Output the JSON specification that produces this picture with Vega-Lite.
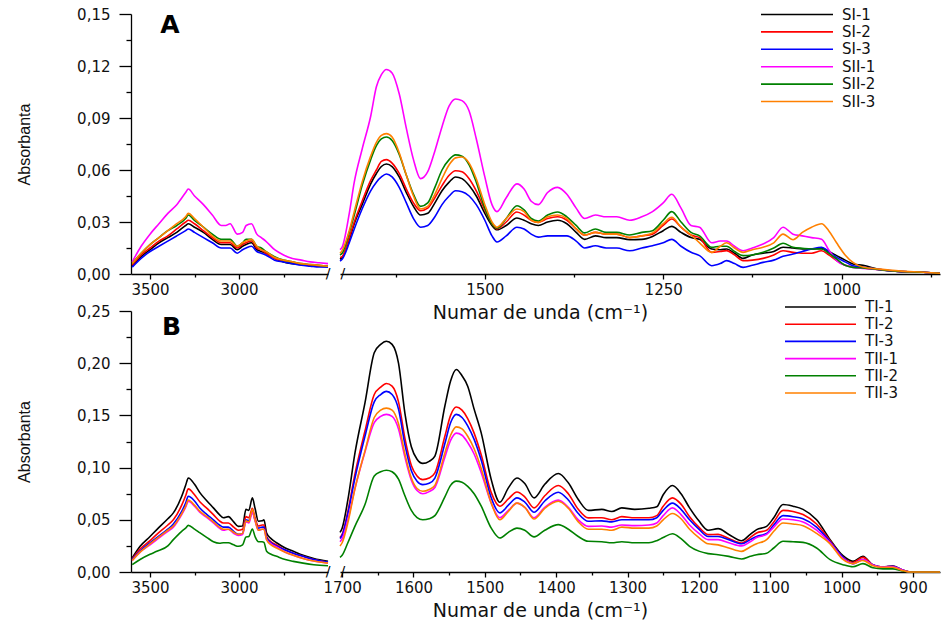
{
"$schema": "https://vega.github.io/schema/vega-lite/v6.json",
"padding": {"left": 15, "top": 6, "right": 0, "bottom": 0},
"config": {
  "view": {"stroke": null},
  "font": "DejaVu Sans",
  "axis": {"domainColor": "#000", "domainWidth": 1.3, "tickColor": "#000", "tickWidth": 1.3, "grid": false, "labelFont": "DejaVu Sans", "labelFontSize": 15, "labelColor": "#111", "labelFlush": false, "labelOverlap": false, "labelBound": false},
  "line": {"strokeWidth": 1.6, "interpolate": "monotone", "clip": true}
},
"datasets": {
"aL": [
{"w":3600,"SI-1":0.0045,"SI-2":0.005,"SI-3":0.004,"SII-1":0.007,"SII-2":0.006,"SII-3":0.006},
{"w":3550,"SI-1":0.010,"SI-2":0.011,"SI-3":0.009,"SII-1":0.016,"SII-2":0.012,"SII-3":0.012},
{"w":3500,"SI-1":0.014,"SI-2":0.015,"SI-3":0.013,"SII-1":0.023,"SII-2":0.017,"SII-3":0.017},
{"w":3450,"SI-1":0.018,"SI-2":0.019,"SI-3":0.016,"SII-1":0.029,"SII-2":0.021,"SII-3":0.021},
{"w":3400,"SI-1":0.021,"SI-2":0.022,"SI-3":0.019,"SII-1":0.035,"SII-2":0.025,"SII-3":0.025},
{"w":3350,"SI-1":0.024,"SI-2":0.026,"SI-3":0.022,"SII-1":0.040,"SII-2":0.028,"SII-3":0.029},
{"w":3300,"SI-1":0.028,"SI-2":0.030,"SI-3":0.025,"SII-1":0.047,"SII-2":0.032,"SII-3":0.033},
{"w":3285,"SI-1":0.029,"SI-2":0.031,"SI-3":0.026,"SII-1":0.049,"SII-2":0.034,"SII-3":0.035},
{"w":3250,"SI-1":0.027,"SI-2":0.029,"SI-3":0.024,"SII-1":0.045,"SII-2":0.031,"SII-3":0.032},
{"w":3200,"SI-1":0.024,"SI-2":0.025,"SI-3":0.021,"SII-1":0.040,"SII-2":0.027,"SII-3":0.027},
{"w":3150,"SI-1":0.020,"SI-2":0.021,"SI-3":0.018,"SII-1":0.034,"SII-2":0.023,"SII-3":0.022},
{"w":3100,"SI-1":0.017,"SI-2":0.018,"SI-3":0.015,"SII-1":0.028,"SII-2":0.020,"SII-3":0.019},
{"w":3075,"SI-1":0.017,"SI-2":0.018,"SI-3":0.015,"SII-1":0.028,"SII-2":0.020,"SII-3":0.019},
{"w":3050,"SI-1":0.017,"SI-2":0.018,"SI-3":0.015,"SII-1":0.029,"SII-2":0.020,"SII-3":0.019},
{"w":3010,"SI-1":0.014,"SI-2":0.015,"SI-3":0.012,"SII-1":0.023,"SII-2":0.016,"SII-3":0.016},
{"w":2980,"SI-1":0.016,"SI-2":0.017,"SI-3":0.014,"SII-1":0.024,"SII-2":0.018,"SII-3":0.018},
{"w":2960,"SI-1":0.017,"SI-2":0.018,"SI-3":0.015,"SII-1":0.028,"SII-2":0.020,"SII-3":0.019},
{"w":2930,"SI-1":0.018,"SI-2":0.019,"SI-3":0.016,"SII-1":0.029,"SII-2":0.020,"SII-3":0.020},
{"w":2900,"SI-1":0.014,"SI-2":0.015,"SI-3":0.013,"SII-1":0.023,"SII-2":0.016,"SII-3":0.016},
{"w":2875,"SI-1":0.013,"SI-2":0.014,"SI-3":0.012,"SII-1":0.021,"SII-2":0.015,"SII-3":0.014},
{"w":2850,"SI-1":0.012,"SI-2":0.012,"SI-3":0.011,"SII-1":0.019,"SII-2":0.013,"SII-3":0.013},
{"w":2800,"SI-1":0.009,"SI-2":0.009,"SI-3":0.008,"SII-1":0.014,"SII-2":0.010,"SII-3":0.0095},
{"w":2750,"SI-1":0.007,"SI-2":0.0075,"SI-3":0.007,"SII-1":0.011,"SII-2":0.008,"SII-3":0.008},
{"w":2700,"SI-1":0.006,"SI-2":0.0065,"SI-3":0.006,"SII-1":0.009,"SII-2":0.007,"SII-3":0.007},
{"w":2650,"SI-1":0.0055,"SI-2":0.0055,"SI-3":0.005,"SII-1":0.008,"SII-2":0.006,"SII-3":0.006},
{"w":2600,"SI-1":0.005,"SI-2":0.005,"SI-3":0.0045,"SII-1":0.007,"SII-2":0.0055,"SII-3":0.0055},
{"w":2550,"SI-1":0.0045,"SI-2":0.0045,"SI-3":0.004,"SII-1":0.0065,"SII-2":0.005,"SII-3":0.005},
{"w":2500,"SI-1":0.004,"SI-2":0.0045,"SI-3":0.004,"SII-1":0.006,"SII-2":0.0045,"SII-3":0.0045}
],
"aR": [
{"w":1703,"SI-1":0.0085,"SI-2":0.0095,"SI-3":0.0075,"SII-1":0.014,"SII-2":0.011,"SII-3":0.012},
{"w":1700,"SI-1":0.0095,"SI-2":0.010,"SI-3":0.0085,"SII-1":0.0155,"SII-2":0.012,"SII-3":0.0135},
{"w":1690,"SI-1":0.020,"SI-2":0.021,"SI-3":0.018,"SII-1":0.035,"SII-2":0.024,"SII-3":0.025},
{"w":1683,"SI-1":0.029,"SI-2":0.030,"SI-3":0.026,"SII-1":0.053,"SII-2":0.034,"SII-3":0.036},
{"w":1672,"SI-1":0.040,"SI-2":0.042,"SI-3":0.0375,"SII-1":0.072,"SII-2":0.051,"SII-3":0.053},
{"w":1660,"SI-1":0.052,"SI-2":0.054,"SI-3":0.048,"SII-1":0.091,"SII-2":0.066,"SII-3":0.068},
{"w":1652,"SI-1":0.058,"SI-2":0.060,"SI-3":0.053,"SII-1":0.108,"SII-2":0.074,"SII-3":0.076},
{"w":1645,"SI-1":0.062,"SI-2":0.065,"SI-3":0.056,"SII-1":0.115,"SII-2":0.078,"SII-3":0.080},
{"w":1638,"SI-1":0.0635,"SI-2":0.066,"SI-3":0.0577,"SII-1":0.118,"SII-2":0.079,"SII-3":0.081},
{"w":1630,"SI-1":0.062,"SI-2":0.064,"SI-3":0.056,"SII-1":0.116,"SII-2":0.077,"SII-3":0.079},
{"w":1620,"SI-1":0.056,"SI-2":0.058,"SI-3":0.050,"SII-1":0.104,"SII-2":0.069,"SII-3":0.070},
{"w":1610,"SI-1":0.047,"SI-2":0.049,"SI-3":0.041,"SII-1":0.084,"SII-2":0.057,"SII-3":0.057},
{"w":1600,"SI-1":0.039,"SI-2":0.041,"SI-3":0.032,"SII-1":0.066,"SII-2":0.046,"SII-3":0.045},
{"w":1590,"SI-1":0.034,"SI-2":0.0365,"SI-3":0.027,"SII-1":0.055,"SII-2":0.039,"SII-3":0.0375},
{"w":1580,"SI-1":0.035,"SI-2":0.038,"SI-3":0.028,"SII-1":0.059,"SII-2":0.041,"SII-3":0.039},
{"w":1570,"SI-1":0.041,"SI-2":0.044,"SI-3":0.033,"SII-1":0.071,"SII-2":0.050,"SII-3":0.046},
{"w":1560,"SI-1":0.048,"SI-2":0.051,"SI-3":0.040,"SII-1":0.085,"SII-2":0.060,"SII-3":0.055},
{"w":1550,"SI-1":0.053,"SI-2":0.057,"SI-3":0.045,"SII-1":0.097,"SII-2":0.066,"SII-3":0.063},
{"w":1541,"SI-1":0.056,"SI-2":0.0596,"SI-3":0.048,"SII-1":0.101,"SII-2":0.0687,"SII-3":0.067},
{"w":1532,"SI-1":0.055,"SI-2":0.059,"SI-3":0.0475,"SII-1":0.100,"SII-2":0.068,"SII-3":0.0675},
{"w":1522,"SI-1":0.051,"SI-2":0.055,"SI-3":0.045,"SII-1":0.094,"SII-2":0.063,"SII-3":0.064},
{"w":1512,"SI-1":0.045,"SI-2":0.048,"SI-3":0.040,"SII-1":0.078,"SII-2":0.053,"SII-3":0.055},
{"w":1500,"SI-1":0.035,"SI-2":0.037,"SI-3":0.031,"SII-1":0.056,"SII-2":0.038,"SII-3":0.040},
{"w":1490,"SI-1":0.028,"SI-2":0.029,"SI-3":0.022,"SII-1":0.040,"SII-2":0.029,"SII-3":0.030},
{"w":1483,"SI-1":0.0255,"SI-2":0.026,"SI-3":0.0185,"SII-1":0.036,"SII-2":0.0265,"SII-3":0.027},
{"w":1470,"SI-1":0.028,"SI-2":0.030,"SI-3":0.022,"SII-1":0.044,"SII-2":0.032,"SII-3":0.032},
{"w":1455,"SI-1":0.0323,"SI-2":0.0358,"SI-3":0.027,"SII-1":0.052,"SII-2":0.0394,"SII-3":0.0375},
{"w":1445,"SI-1":0.031,"SI-2":0.034,"SI-3":0.026,"SII-1":0.049,"SII-2":0.037,"SII-3":0.036},
{"w":1435,"SI-1":0.029,"SI-2":0.031,"SI-3":0.023,"SII-1":0.042,"SII-2":0.032,"SII-3":0.031},
{"w":1425,"SI-1":0.028,"SI-2":0.0298,"SI-3":0.0213,"SII-1":0.040,"SII-2":0.0306,"SII-3":0.0298},
{"w":1412,"SI-1":0.030,"SI-2":0.032,"SI-3":0.022,"SII-1":0.047,"SII-2":0.034,"SII-3":0.033},
{"w":1398,"SI-1":0.031,"SI-2":0.033,"SI-3":0.022,"SII-1":0.050,"SII-2":0.0358,"SII-3":0.034},
{"w":1385,"SI-1":0.029,"SI-2":0.031,"SI-3":0.022,"SII-1":0.046,"SII-2":0.033,"SII-3":0.032},
{"w":1372,"SI-1":0.024,"SI-2":0.026,"SI-3":0.019,"SII-1":0.038,"SII-2":0.028,"SII-3":0.026},
{"w":1360,"SI-1":0.020,"SI-2":0.0225,"SI-3":0.015,"SII-1":0.032,"SII-2":0.0237,"SII-3":0.0225},
{"w":1345,"SI-1":0.022,"SI-2":0.024,"SI-3":0.0163,"SII-1":0.034,"SII-2":0.026,"SII-3":0.024},
{"w":1330,"SI-1":0.021,"SI-2":0.023,"SI-3":0.015,"SII-1":0.033,"SII-2":0.024,"SII-3":0.023},
{"w":1315,"SI-1":0.021,"SI-2":0.023,"SI-3":0.015,"SII-1":0.033,"SII-2":0.024,"SII-3":0.023},
{"w":1297,"SI-1":0.0198,"SI-2":0.021,"SI-3":0.0134,"SII-1":0.031,"SII-2":0.0225,"SII-3":0.021},
{"w":1280,"SI-1":0.020,"SI-2":0.022,"SI-3":0.015,"SII-1":0.033,"SII-2":0.024,"SII-3":0.022},
{"w":1265,"SI-1":0.0217,"SI-2":0.023,"SI-3":0.0163,"SII-1":0.036,"SII-2":0.025,"SII-3":0.0237},
{"w":1250,"SI-1":0.025,"SI-2":0.028,"SI-3":0.018,"SII-1":0.041,"SII-2":0.031,"SII-3":0.029},
{"w":1238,"SI-1":0.0275,"SI-2":0.0317,"SI-3":0.020,"SII-1":0.046,"SII-2":0.036,"SII-3":0.0327},
{"w":1225,"SI-1":0.024,"SI-2":0.027,"SI-3":0.016,"SII-1":0.038,"SII-2":0.030,"SII-3":0.027},
{"w":1211,"SI-1":0.021,"SI-2":0.0225,"SI-3":0.0125,"SII-1":0.028,"SII-2":0.024,"SII-3":0.0225},
{"w":1199,"SI-1":0.020,"SI-2":0.021,"SI-3":0.0106,"SII-1":0.027,"SII-2":0.022,"SII-3":0.018},
{"w":1182,"SI-1":0.0144,"SI-2":0.0125,"SI-3":0.0048,"SII-1":0.018,"SII-2":0.0154,"SII-3":0.0125},
{"w":1170,"SI-1":0.014,"SI-2":0.013,"SI-3":0.006,"SII-1":0.019,"SII-2":0.016,"SII-3":0.016},
{"w":1161,"SI-1":0.0144,"SI-2":0.0135,"SI-3":0.0077,"SII-1":0.019,"SII-2":0.016,"SII-3":0.018},
{"w":1150,"SI-1":0.012,"SI-2":0.011,"SI-3":0.006,"SII-1":0.016,"SII-2":0.013,"SII-3":0.015},
{"w":1138,"SI-1":0.009,"SI-2":0.0077,"SI-3":0.0038,"SII-1":0.0134,"SII-2":0.0106,"SII-3":0.0125},
{"w":1125,"SI-1":0.011,"SI-2":0.008,"SI-3":0.005,"SII-1":0.015,"SII-2":0.011,"SII-3":0.014},
{"w":1110,"SI-1":0.012,"SI-2":0.009,"SI-3":0.0067,"SII-1":0.0173,"SII-2":0.0125,"SII-3":0.0154},
{"w":1095,"SI-1":0.013,"SI-2":0.011,"SI-3":0.008,"SII-1":0.021,"SII-2":0.015,"SII-3":0.018},
{"w":1082,"SI-1":0.0154,"SI-2":0.0134,"SI-3":0.0102,"SII-1":0.027,"SII-2":0.0177,"SII-3":0.023},
{"w":1068,"SI-1":0.015,"SI-2":0.0125,"SI-3":0.0115,"SII-1":0.023,"SII-2":0.0154,"SII-3":0.0198},
{"w":1055,"SI-1":0.0145,"SI-2":0.012,"SI-3":0.013,"SII-1":0.022,"SII-2":0.0148,"SII-3":0.024},
{"w":1042,"SI-1":0.0144,"SI-2":0.012,"SI-3":0.0144,"SII-1":0.021,"SII-2":0.0144,"SII-3":0.027},
{"w":1028,"SI-1":0.0148,"SI-2":0.0134,"SI-3":0.0154,"SII-1":0.020,"SII-2":0.0144,"SII-3":0.029},
{"w":1018,"SI-1":0.013,"SI-2":0.011,"SI-3":0.013,"SII-1":0.014,"SII-2":0.012,"SII-3":0.025},
{"w":1007,"SI-1":0.0106,"SI-2":0.0077,"SI-3":0.0096,"SII-1":0.0077,"SII-2":0.0087,"SII-3":0.018},
{"w":995,"SI-1":0.008,"SI-2":0.005,"SI-3":0.007,"SII-1":0.005,"SII-2":0.005,"SII-3":0.011},
{"w":984,"SI-1":0.0058,"SI-2":0.004,"SI-3":0.0048,"SII-1":0.0038,"SII-2":0.0038,"SII-3":0.0067},
{"w":970,"SI-1":0.005,"SI-2":0.0035,"SI-3":0.004,"SII-1":0.0032,"SII-2":0.0035,"SII-3":0.004},
{"w":946,"SI-1":0.0025,"SI-2":0.0025,"SI-3":0.0025,"SII-1":0.0025,"SII-2":0.0025,"SII-3":0.0028},
{"w":920,"SI-1":0.0015,"SI-2":0.0015,"SI-3":0.0015,"SII-1":0.0015,"SII-2":0.0015,"SII-3":0.0018},
{"w":885,"SI-1":0.001,"SI-2":0.001,"SI-3":0.001,"SII-1":0.001,"SII-2":0.001,"SII-3":0.001},
{"w":862,"SI-1":0.0004,"SI-2":0.0004,"SI-3":0.0004,"SII-1":0.0004,"SII-2":0.0004,"SII-3":0.0004}
],
"bL": [
{"w":3600,"TI-1":0.0134,"TI-2":0.0125,"TI-3":0.012,"TII-1":0.011,"TII-2":0.007,"TII-3":0.011},
{"w":3556,"TI-1":0.0246,"TI-2":0.022,"TI-3":0.020,"TII-1":0.019,"TII-2":0.012,"TII-3":0.019},
{"w":3500,"TI-1":0.034,"TI-2":0.030,"TI-3":0.028,"TII-1":0.026,"TII-2":0.017,"TII-3":0.027},
{"w":3462,"TI-1":0.0406,"TI-2":0.036,"TI-3":0.033,"TII-1":0.031,"TII-2":0.0198,"TII-3":0.032},
{"w":3400,"TI-1":0.051,"TI-2":0.045,"TI-3":0.041,"TII-1":0.039,"TII-2":0.025,"TII-3":0.040},
{"w":3369,"TI-1":0.0566,"TI-2":0.050,"TI-3":0.046,"TII-1":0.043,"TII-2":0.031,"TII-3":0.044},
{"w":3322,"TI-1":0.0725,"TI-2":0.064,"TI-3":0.058,"TII-1":0.055,"TII-2":0.039,"TII-3":0.056},
{"w":3300,"TI-1":0.083,"TI-2":0.073,"TI-3":0.066,"TII-1":0.062,"TII-2":0.042,"TII-3":0.063},
{"w":3285,"TI-1":0.090,"TI-2":0.0796,"TI-3":0.0725,"TII-1":0.0677,"TII-2":0.0447,"TII-3":0.069},
{"w":3250,"TI-1":0.084,"TI-2":0.074,"TI-3":0.068,"TII-1":0.063,"TII-2":0.041,"TII-3":0.064},
{"w":3219,"TI-1":0.0758,"TI-2":0.067,"TI-3":0.061,"TII-1":0.057,"TII-2":0.0374,"TII-3":0.058},
{"w":3180,"TI-1":0.068,"TI-2":0.061,"TI-3":0.055,"TII-1":0.052,"TII-2":0.033,"TII-3":0.053},
{"w":3144,"TI-1":0.0614,"TI-2":0.055,"TI-3":0.050,"TII-1":0.047,"TII-2":0.029,"TII-3":0.048},
{"w":3110,"TI-1":0.055,"TI-2":0.049,"TI-3":0.045,"TII-1":0.042,"TII-2":0.0275,"TII-3":0.043},
{"w":3088,"TI-1":0.052,"TI-2":0.047,"TI-3":0.043,"TII-1":0.040,"TII-2":0.028,"TII-3":0.041},
{"w":3060,"TI-1":0.053,"TI-2":0.047,"TI-3":0.043,"TII-1":0.041,"TII-2":0.028,"TII-3":0.041},
{"w":3030,"TI-1":0.048,"TI-2":0.043,"TI-3":0.039,"TII-1":0.037,"TII-2":0.026,"TII-3":0.038},
{"w":3004,"TI-1":0.0437,"TI-2":0.040,"TI-3":0.036,"TII-1":0.035,"TII-2":0.0246,"TII-3":0.036},
{"w":2980,"TI-1":0.044,"TI-2":0.041,"TI-3":0.037,"TII-1":0.036,"TII-2":0.026,"TII-3":0.037},
{"w":2961,"TI-1":0.060,"TI-2":0.053,"TI-3":0.050,"TII-1":0.048,"TII-2":0.0336,"TII-3":0.049},
{"w":2945,"TI-1":0.059,"TI-2":0.052,"TI-3":0.049,"TII-1":0.047,"TII-2":0.034,"TII-3":0.048},
{"w":2925,"TI-1":0.071,"TI-2":0.061,"TI-3":0.058,"TII-1":0.057,"TII-2":0.0412,"TII-3":0.060},
{"w":2910,"TI-1":0.061,"TI-2":0.052,"TI-3":0.050,"TII-1":0.049,"TII-2":0.034,"TII-3":0.050},
{"w":2891,"TI-1":0.0486,"TI-2":0.044,"TI-3":0.042,"TII-1":0.040,"TII-2":0.029,"TII-3":0.040},
{"w":2870,"TI-1":0.049,"TI-2":0.045,"TI-3":0.043,"TII-1":0.041,"TII-2":0.029,"TII-3":0.041},
{"w":2860,"TI-1":0.050,"TI-2":0.045,"TI-3":0.043,"TII-1":0.041,"TII-2":0.0284,"TII-3":0.041},
{"w":2845,"TI-1":0.0374,"TI-2":0.034,"TI-3":0.033,"TII-1":0.031,"TII-2":0.0198,"TII-3":0.031},
{"w":2820,"TI-1":0.032,"TI-2":0.029,"TI-3":0.028,"TII-1":0.027,"TII-2":0.017,"TII-3":0.026},
{"w":2789,"TI-1":0.028,"TI-2":0.026,"TI-3":0.025,"TII-1":0.024,"TII-2":0.015,"TII-3":0.023},
{"w":2740,"TI-1":0.023,"TI-2":0.021,"TI-3":0.021,"TII-1":0.019,"TII-2":0.012,"TII-3":0.019},
{"w":2695,"TI-1":0.0198,"TI-2":0.018,"TI-3":0.018,"TII-1":0.016,"TII-2":0.0102,"TII-3":0.016},
{"w":2640,"TI-1":0.016,"TI-2":0.015,"TI-3":0.015,"TII-1":0.013,"TII-2":0.0085,"TII-3":0.013},
{"w":2580,"TI-1":0.013,"TI-2":0.012,"TI-3":0.012,"TII-1":0.0105,"TII-2":0.007,"TII-3":0.0105},
{"w":2500,"TI-1":0.0102,"TI-2":0.0095,"TI-3":0.0095,"TII-1":0.0085,"TII-2":0.006,"TII-3":0.0085}
],
"bR": [
{"w":1703,"TI-1":0.038,"TI-2":0.033,"TI-3":0.032,"TII-1":0.029,"TII-2":0.014,"TII-3":0.025},
{"w":1700,"TI-1":0.042,"TI-2":0.036,"TI-3":0.035,"TII-1":0.032,"TII-2":0.016,"TII-3":0.028},
{"w":1692,"TI-1":0.069,"TI-2":0.058,"TI-3":0.056,"TII-1":0.050,"TII-2":0.028,"TII-3":0.047},
{"w":1682,"TI-1":0.114,"TI-2":0.094,"TI-3":0.090,"TII-1":0.080,"TII-2":0.044,"TII-3":0.080},
{"w":1668,"TI-1":0.162,"TI-2":0.135,"TI-3":0.130,"TII-1":0.115,"TII-2":0.0646,"TII-3":0.116},
{"w":1655,"TI-1":0.210,"TI-2":0.170,"TI-3":0.163,"TII-1":0.143,"TII-2":0.092,"TII-3":0.148},
{"w":1646,"TI-1":0.218,"TI-2":0.177,"TI-3":0.170,"TII-1":0.149,"TII-2":0.096,"TII-3":0.155},
{"w":1638,"TI-1":0.221,"TI-2":0.1806,"TI-3":0.173,"TII-1":0.151,"TII-2":0.0975,"TII-3":0.157},
{"w":1630,"TI-1":0.218,"TI-2":0.178,"TI-3":0.170,"TII-1":0.149,"TII-2":0.096,"TII-3":0.155},
{"w":1621,"TI-1":0.200,"TI-2":0.163,"TI-3":0.156,"TII-1":0.137,"TII-2":0.089,"TII-3":0.142},
{"w":1612,"TI-1":0.152,"TI-2":0.128,"TI-3":0.122,"TII-1":0.110,"TII-2":0.073,"TII-3":0.113},
{"w":1603,"TI-1":0.120,"TI-2":0.102,"TI-3":0.097,"TII-1":0.088,"TII-2":0.059,"TII-3":0.090},
{"w":1595,"TI-1":0.108,"TI-2":0.092,"TI-3":0.087,"TII-1":0.078,"TII-2":0.052,"TII-3":0.080},
{"w":1587,"TI-1":0.104,"TI-2":0.0885,"TI-3":0.0837,"TII-1":0.075,"TII-2":0.050,"TII-3":0.0773},
{"w":1578,"TI-1":0.106,"TI-2":0.090,"TI-3":0.085,"TII-1":0.077,"TII-2":0.051,"TII-3":0.079},
{"w":1570,"TI-1":0.111,"TI-2":0.095,"TI-3":0.090,"TII-1":0.081,"TII-2":0.054,"TII-3":0.083},
{"w":1556,"TI-1":0.159,"TI-2":0.130,"TI-3":0.123,"TII-1":0.110,"TII-2":0.072,"TII-3":0.114},
{"w":1548,"TI-1":0.183,"TI-2":0.150,"TI-3":0.143,"TII-1":0.126,"TII-2":0.083,"TII-3":0.131},
{"w":1540,"TI-1":0.194,"TI-2":0.158,"TI-3":0.151,"TII-1":0.133,"TII-2":0.087,"TII-3":0.139},
{"w":1532,"TI-1":0.188,"TI-2":0.155,"TI-3":0.148,"TII-1":0.131,"TII-2":0.086,"TII-3":0.137},
{"w":1524,"TI-1":0.178,"TI-2":0.147,"TI-3":0.140,"TII-1":0.124,"TII-2":0.082,"TII-3":0.130},
{"w":1515,"TI-1":0.156,"TI-2":0.133,"TI-3":0.127,"TII-1":0.113,"TII-2":0.075,"TII-3":0.118},
{"w":1505,"TI-1":0.133,"TI-2":0.112,"TI-3":0.107,"TII-1":0.095,"TII-2":0.063,"TII-3":0.099},
{"w":1491,"TI-1":0.0885,"TI-2":0.076,"TI-3":0.071,"TII-1":0.066,"TII-2":0.042,"TII-3":0.066},
{"w":1479,"TI-1":0.0668,"TI-2":0.063,"TI-3":0.0566,"TII-1":0.052,"TII-2":0.0326,"TII-3":0.050},
{"w":1467,"TI-1":0.0806,"TI-2":0.070,"TI-3":0.064,"TII-1":0.059,"TII-2":0.038,"TII-3":0.058},
{"w":1455,"TI-1":0.090,"TI-2":0.0767,"TI-3":0.071,"TII-1":0.066,"TII-2":0.042,"TII-3":0.066},
{"w":1444,"TI-1":0.0847,"TI-2":0.072,"TI-3":0.067,"TII-1":0.062,"TII-2":0.040,"TII-3":0.062},
{"w":1431,"TI-1":0.071,"TI-2":0.0614,"TI-3":0.0572,"TII-1":0.052,"TII-2":0.0336,"TII-3":0.0508},
{"w":1416,"TI-1":0.084,"TI-2":0.073,"TI-3":0.068,"TII-1":0.062,"TII-2":0.040,"TII-3":0.061},
{"w":1397,"TI-1":0.0943,"TI-2":0.0828,"TI-3":0.0764,"TII-1":0.0688,"TII-2":0.0454,"TII-3":0.0677},
{"w":1383,"TI-1":0.0854,"TI-2":0.075,"TI-3":0.069,"TII-1":0.062,"TII-2":0.041,"TII-3":0.061},
{"w":1369,"TI-1":0.0694,"TI-2":0.060,"TI-3":0.056,"TII-1":0.050,"TII-2":0.034,"TII-3":0.048},
{"w":1355,"TI-1":0.059,"TI-2":0.0518,"TI-3":0.0486,"TII-1":0.0437,"TII-2":0.0294,"TII-3":0.041},
{"w":1336,"TI-1":0.060,"TI-2":0.052,"TI-3":0.049,"TII-1":0.044,"TII-2":0.029,"TII-3":0.041},
{"w":1322,"TI-1":0.058,"TI-2":0.050,"TI-3":0.048,"TII-1":0.043,"TII-2":0.028,"TII-3":0.040},
{"w":1308,"TI-1":0.0614,"TI-2":0.053,"TI-3":0.050,"TII-1":0.045,"TII-2":0.029,"TII-3":0.043},
{"w":1290,"TI-1":0.060,"TI-2":0.052,"TI-3":0.050,"TII-1":0.0444,"TII-2":0.028,"TII-3":0.042},
{"w":1270,"TI-1":0.061,"TI-2":0.052,"TI-3":0.050,"TII-1":0.045,"TII-2":0.028,"TII-3":0.042},
{"w":1259,"TI-1":0.0624,"TI-2":0.054,"TI-3":0.052,"TII-1":0.047,"TII-2":0.030,"TII-3":0.044},
{"w":1250,"TI-1":0.074,"TI-2":0.063,"TI-3":0.059,"TII-1":0.054,"TII-2":0.033,"TII-3":0.050},
{"w":1237,"TI-1":0.0828,"TI-2":0.071,"TI-3":0.066,"TII-1":0.0614,"TII-2":0.0367,"TII-3":0.056},
{"w":1225,"TI-1":0.075,"TI-2":0.065,"TI-3":0.060,"TII-1":0.055,"TII-2":0.032,"TII-3":0.051},
{"w":1213,"TI-1":0.0614,"TI-2":0.053,"TI-3":0.050,"TII-1":0.045,"TII-2":0.0246,"TII-3":0.041},
{"w":1200,"TI-1":0.049,"TI-2":0.043,"TI-3":0.041,"TII-1":0.037,"TII-2":0.020,"TII-3":0.033},
{"w":1187,"TI-1":0.040,"TI-2":0.0358,"TI-3":0.034,"TII-1":0.031,"TII-2":0.0176,"TII-3":0.027},
{"w":1173,"TI-1":0.0415,"TI-2":0.036,"TI-3":0.034,"TII-1":0.031,"TII-2":0.0166,"TII-3":0.026},
{"w":1158,"TI-1":0.036,"TI-2":0.032,"TI-3":0.031,"TII-1":0.028,"TII-2":0.015,"TII-3":0.023},
{"w":1140,"TI-1":0.030,"TI-2":0.0278,"TI-3":0.027,"TII-1":0.025,"TII-2":0.0125,"TII-3":0.0198},
{"w":1128,"TI-1":0.036,"TI-2":0.033,"TI-3":0.031,"TII-1":0.029,"TII-2":0.015,"TII-3":0.024},
{"w":1119,"TI-1":0.0406,"TI-2":0.0374,"TI-3":0.034,"TII-1":0.033,"TII-2":0.0166,"TII-3":0.027},
{"w":1105,"TI-1":0.0437,"TI-2":0.040,"TI-3":0.037,"TII-1":0.036,"TII-2":0.018,"TII-3":0.031},
{"w":1095,"TI-1":0.052,"TI-2":0.048,"TI-3":0.045,"TII-1":0.043,"TII-2":0.023,"TII-3":0.039},
{"w":1082,"TI-1":0.0646,"TI-2":0.059,"TI-3":0.054,"TII-1":0.0508,"TII-2":0.0294,"TII-3":0.047},
{"w":1068,"TI-1":0.063,"TI-2":0.058,"TI-3":0.053,"TII-1":0.050,"TII-2":0.029,"TII-3":0.046},
{"w":1054,"TI-1":0.060,"TI-2":0.055,"TI-3":0.051,"TII-1":0.048,"TII-2":0.0284,"TII-3":0.0444},
{"w":1035,"TI-1":0.050,"TI-2":0.046,"TI-3":0.043,"TII-1":0.040,"TII-2":0.023,"TII-3":0.037},
{"w":1016,"TI-1":0.031,"TI-2":0.030,"TI-3":0.029,"TII-1":0.028,"TII-2":0.0118,"TII-3":0.027},
{"w":998,"TI-1":0.0156,"TI-2":0.014,"TI-3":0.014,"TII-1":0.013,"TII-2":0.007,"TII-3":0.012},
{"w":984,"TI-1":0.0102,"TI-2":0.009,"TI-3":0.008,"TII-1":0.008,"TII-2":0.005,"TII-3":0.008},
{"w":970,"TI-1":0.015,"TI-2":0.014,"TI-3":0.012,"TII-1":0.012,"TII-2":0.008,"TII-3":0.011},
{"w":956,"TI-1":0.0067,"TI-2":0.0067,"TI-3":0.0067,"TII-1":0.0067,"TII-2":0.004,"TII-3":0.006},
{"w":942,"TI-1":0.0048,"TI-2":0.0048,"TI-3":0.0048,"TII-1":0.0048,"TII-2":0.003,"TII-3":0.0045},
{"w":928,"TI-1":0.0058,"TI-2":0.0055,"TI-3":0.0055,"TII-1":0.005,"TII-2":0.003,"TII-3":0.0045},
{"w":915,"TI-1":0.002,"TI-2":0.002,"TI-3":0.002,"TII-1":0.002,"TII-2":0.001,"TII-3":0.0015},
{"w":904,"TI-1":0.0,"TI-2":0.0,"TI-3":0.0,"TII-1":0.0,"TII-2":0.0,"TII-3":0.0},
{"w":880,"TI-1":0.0,"TI-2":0.0,"TI-3":0.0,"TII-1":0.0,"TII-2":0.0,"TII-3":0.0},
{"w":862,"TI-1":0.0,"TI-2":0.0,"TI-3":0.0,"TII-1":0.0,"TII-2":0.0,"TII-3":0.0}
]
},
"concat": [
    {
      "width": 197, "height": 260,
      "layer": [
        {
          "data": {"name": "aL"},
          "transform": [{"fold": ["SI-1","SI-2","SI-3","SII-1","SII-2","SII-3"], "as": ["serie","abs"]}],
          "mark": {"type": "line"},
          "encoding": {
            "x": {"field": "w", "type": "quantitative", "scale": {"domain": [3607, 2500], "nice": false, "zero": false},
              "axis": {"orient": "bottom", "title": null, "values": [3500,3000], "format": "d", "tickSize": 5, "labelPadding": 3}},
            "y": {"field": "abs", "type": "quantitative", "scale": {"domain": [0, 0.15], "nice": false},
              "axis": {"orient": "left", "title": "Absorbanta", "values": [0,0.03,0.06,0.09,0.12,0.15], "labelExpr": "replace(format(datum.value, '.2f'), '.', ',')", "tickSize": 12, "labelPadding": 9, "titleFont": "Liberation Sans", "titleFontSize": 16, "titleFontWeight": "normal", "titleColor": "#111", "titleX": -99}},
            "color": {"field": "serie", "type": "nominal", "scale": {"domain": ["SI-1","SI-2","SI-3","SII-1","SII-2","SII-3"], "range": ["#000000","#ff0000","#0000ff","#ff00ff","#008000","#ff8000"]}, "legend": null}
          }
        },
        {
          "data": {"values": [{}]},
          "mark": {"type": "text", "font": "DejaVu Sans", "fontSize": 25, "fontWeight": "bold", "align": "center", "baseline": "middle", "color": "#000"},
          "encoding": {"x": {"datum": 3388, "axis": null}, "y": {"datum": 0.1435, "axis": null}, "text": {"value": "A"}}
        },
        {
          "data": {"values": [{}]},
          "mark": {"type": "text", "font": "DejaVu Sans", "fontSize": 14, "align": "center", "baseline": "middle", "color": "#000"},
          "encoding": {
            "x": {"datum": 2500, "type": "quantitative", "axis": {"orient": "bottom", "title": null, "values": [3250,2750], "labels": false, "domain": false, "tickSize": 3}},
            "y": {"datum": 0, "type": "quantitative", "axis": {"orient": "left", "title": null, "values": [0.015,0.045,0.075,0.105,0.135], "labels": false, "domain": false, "tickSize": 5}},
            "text": {"value": "/"}}
        }
      ],
      "resolve": {"axis": {"x": "independent", "y": "independent"}}
    },
    {
      "width": 600, "height": 260,
      "layer": [
        {
          "data": {"name": "aR"},
          "transform": [{"fold": ["SI-1","SI-2","SI-3","SII-1","SII-2","SII-3"], "as": ["serie","abs"]}],
          "mark": {"type": "line"},
          "encoding": {
            "x": {"field": "w", "type": "quantitative", "scale": {"domain": [1703, 862], "nice": false, "zero": false},
              "axis": {"orient": "bottom", "title": "Numar de unda (cm⁻¹)", "values": [1500,1250,1000], "format": "d", "tickSize": 5, "labelPadding": 3, "titleFont": "DejaVu Sans", "titleFontSize": 19, "titleFontWeight": "normal", "titleColor": "#111", "titleX": 200, "titlePadding": 6}},
            "y": {"field": "abs", "type": "quantitative", "scale": {"domain": [0, 0.15], "nice": false}, "axis": null},
            "color": {"field": "serie", "type": "nominal", "scale": {"domain": ["SI-1","SI-2","SI-3","SII-1","SII-2","SII-3"], "range": ["#000000","#ff0000","#0000ff","#ff00ff","#008000","#ff8000"]},
              "legend": {"title": null, "orient": "none", "legendX": 420, "legendY": -8, "padding": 0, "symbolType": "stroke", "symbolSize": 5184, "symbolStrokeWidth": 1.6, "clipHeight": 17, "rowPadding": 0.4, "labelOffset": 8, "labelFont": "DejaVu Sans", "labelFontSize": 15, "labelColor": "#111"}}
          }
        },
        {
          "data": {"values": [{}]},
          "mark": {"type": "text", "font": "DejaVu Sans", "fontSize": 14, "align": "center", "baseline": "middle", "color": "#000"},
          "encoding": {
            "x": {"datum": 1699, "type": "quantitative", "axis": {"orient": "bottom", "title": null, "values": [1625,1375,1125,875], "labels": false, "domain": false, "tickSize": 3}},
            "y": {"datum": 0, "axis": null},
            "text": {"value": "/"}}
        }
      ],
      "resolve": {"axis": {"x": "independent"}}
    },
    {
      "width": 197, "height": 261,
      "layer": [
        {
          "data": {"name": "bL"},
          "transform": [{"fold": ["TI-1","TI-2","TI-3","TII-1","TII-2","TII-3"], "as": ["serie","abs"]}],
          "mark": {"type": "line"},
          "encoding": {
            "x": {"field": "w", "type": "quantitative", "scale": {"domain": [3607, 2500], "nice": false, "zero": false},
              "axis": {"orient": "bottom", "title": null, "values": [3500,3000], "format": "d", "tickSize": 5, "labelPadding": 3}},
            "y": {"field": "abs", "type": "quantitative", "scale": {"domain": [0, 0.25], "nice": false},
              "axis": {"orient": "left", "title": "Absorbanta", "values": [0,0.05,0.1,0.15,0.2,0.25], "labelExpr": "replace(format(datum.value, '.2f'), '.', ',')", "tickSize": 12, "labelPadding": 9, "titleFont": "Liberation Sans", "titleFontSize": 16, "titleFontWeight": "normal", "titleColor": "#111", "titleX": -99}},
            "color": {"field": "serie", "type": "nominal", "scale": {"domain": ["TI-1","TI-2","TI-3","TII-1","TII-2","TII-3"], "range": ["#000000","#ff0000","#0000ff","#ff00ff","#008000","#ff8000"]}, "legend": null}
          }
        },
        {
          "data": {"values": [{}]},
          "mark": {"type": "text", "font": "DejaVu Sans", "fontSize": 25, "fontWeight": "bold", "align": "center", "baseline": "middle", "color": "#000"},
          "encoding": {"x": {"datum": 3379, "axis": null}, "y": {"datum": 0.2344, "axis": null}, "text": {"value": "B"}}
        },
        {
          "data": {"values": [{}]},
          "mark": {"type": "text", "font": "DejaVu Sans", "fontSize": 14, "align": "center", "baseline": "middle", "color": "#000"},
          "encoding": {
            "x": {"datum": 2500, "type": "quantitative", "axis": {"orient": "bottom", "title": null, "values": [3250,2750], "labels": false, "domain": false, "tickSize": 3}},
            "y": {"datum": 0, "type": "quantitative", "axis": {"orient": "left", "title": null, "values": [0.025,0.075,0.125,0.175,0.225], "labels": false, "domain": false, "tickSize": 5}},
            "text": {"value": "/"}}
        }
      ],
      "resolve": {"axis": {"x": "independent", "y": "independent"}}
    },
    {
      "width": 600, "height": 261,
      "layer": [
        {
          "data": {"name": "bR"},
          "transform": [{"fold": ["TI-1","TI-2","TI-3","TII-1","TII-2","TII-3"], "as": ["serie","abs"]}],
          "mark": {"type": "line"},
          "encoding": {
            "x": {"field": "w", "type": "quantitative", "scale": {"domain": [1703, 862], "nice": false, "zero": false},
              "axis": {"orient": "bottom", "title": "Numar de unda (cm⁻¹)", "values": [1700,1600,1500,1400,1300,1200,1100,1000,900], "format": "d", "tickSize": 5, "labelPadding": 3, "titleFont": "DejaVu Sans", "titleFontSize": 19, "titleFontWeight": "normal", "titleColor": "#111", "titleX": 200, "titlePadding": 6}},
            "y": {"field": "abs", "type": "quantitative", "scale": {"domain": [0, 0.25], "nice": false}, "axis": null},
            "color": {"field": "serie", "type": "nominal", "scale": {"domain": ["TI-1","TI-2","TI-3","TII-1","TII-2","TII-3"], "range": ["#000000","#ff0000","#0000ff","#ff00ff","#008000","#ff8000"]},
              "legend": {"title": null, "orient": "none", "legendX": 444, "legendY": -12.5, "padding": 0, "symbolType": "stroke", "symbolSize": 5041, "symbolStrokeWidth": 1.6, "clipHeight": 17, "rowPadding": 0.2, "labelOffset": 8, "labelFont": "DejaVu Sans", "labelFontSize": 15, "labelColor": "#111"}}
          }
        },
        {
          "data": {"values": [{}]},
          "mark": {"type": "text", "font": "DejaVu Sans", "fontSize": 14, "align": "center", "baseline": "middle", "color": "#000"},
          "encoding": {
            "x": {"datum": 1699, "type": "quantitative", "axis": {"orient": "bottom", "title": null, "values": [1650,1550,1450,1350,1250,1150,1050,950], "labels": false, "domain": false, "tickSize": 3}},
            "y": {"datum": 0, "axis": null},
            "text": {"value": "/"}}
        }
      ],
      "resolve": {"axis": {"x": "independent"}}
    }
],
"columns": 2,
"spacing": {"row": 37, "column": 12},
"bounds": "flush",
"resolve": {"scale": {"x": "independent", "y": "independent", "color": "independent"}, "legend": {"color": "independent"}}
}
